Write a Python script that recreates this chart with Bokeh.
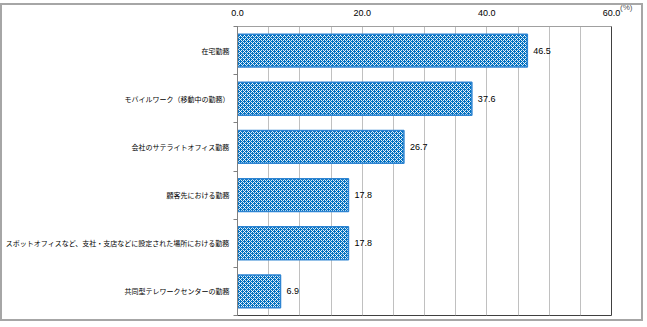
from bokeh.plotting import figure
from bokeh.models import Range1d, FixedTicker, ColumnDataSource, SingleIntervalTicker
from bokeh.core.properties import value
from bokeh.embed import file_html
from bokeh.resources import INLINE

categories = ["在宅勤務", "モバイルワーク（移動中の勤務）", "会社のサテライトオフィス勤務",
              "顧客先における勤務", "スポットオフィスなど、支社・支店などに設定された場所における勤務",
              "共同型テレワークセンターの勤務"]
values = [46.5, 37.6, 26.7, 17.8, 17.8, 6.9]
x_ticks = [0, 20, 40, 60]
unit_label = "(%)"

pos = [i + 0.5 for i in range(len(categories))]
src = ColumnDataSource(dict(y=pos, v=values, lab=[f"{v:.1f}" for v in values]))

p = figure(width=643, height=318, output_backend="svg", toolbar_location=None,
           x_range=Range1d(0, 60), y_range=Range1d(len(categories), 0),
           x_axis_location="above", min_border_left=234, min_border_right=34,
           min_border_top=21, min_border_bottom=8)
p.styles = {"border": "2px solid #a6a6a6", "margin-top": "3px"}
p.background_fill_color = "white"
p.border_fill_color = "white"
p.outline_line_color = "#404040"
p.outline_line_width = 1

p.title.text = unit_label
p.title.align = "right"
p.title.offset = -21
try:
    p.title.standoff = -11
except Exception:
    p.title.standoff = 0
p.title.text_font = "Liberation Sans"
p.title.text_font_size = "8px"
p.title.text_font_style = "normal"
p.title.text_color = "#555555"
try:
    p.title.text_baseline = "top"
except Exception:
    pass

p.hbar(y="y", left=0, right="v", height=0.68, source=src,
       fill_color="#0070C0", hatch_pattern="diagonal_cross",
       hatch_color="white", hatch_scale=4, hatch_weight=0.9,
       line_color="#2d84d2", line_width=1.5)

p.text(x="v", y="y", text="lab", source=src, x_offset=6, text_baseline="middle",
       text_font=value("Liberation Sans"), text_font_size="9px", text_color="black")

# x axis (top)
xa = p.xaxis[0]
xa.ticker = FixedTicker(ticks=x_ticks)
xa.major_label_overrides = {t: f"{t:.1f}" for t in x_ticks}
xa.major_tick_line_color = None
xa.minor_tick_line_color = None
xa.axis_line_color = "#a0a0a0"
xa.major_label_text_font = "Liberation Sans"
xa.major_label_text_font_size = "9px"
xa.major_label_text_color = "black"
xa.major_label_standoff = 5

# y axis (categories)
ya = p.yaxis[0]
ya.ticker = FixedTicker(ticks=pos, minor_ticks=list(range(len(categories) + 1)))
ya.major_label_overrides = {pp: c for pp, c in zip(pos, categories)}
ya.major_tick_line_color = None
ya.major_tick_out = 0
ya.major_tick_in = 0
ya.minor_tick_line_color = "#808080"
ya.minor_tick_out = 4
ya.minor_tick_in = 0
ya.axis_line_color = "#808080"
ya.major_label_text_font = "Noto Sans CJK JP"
ya.major_label_text_font_size = "7px"
ya.major_label_text_color = "black"
ya.major_label_standoff = 4

p.ygrid.grid_line_color = None
p.xgrid.ticker = SingleIntervalTicker(interval=5)
p.xgrid.grid_line_color = "#c0c0c0"
p.xgrid.grid_line_width = 1

open("out.html", "w").write(file_html(p, INLINE))
